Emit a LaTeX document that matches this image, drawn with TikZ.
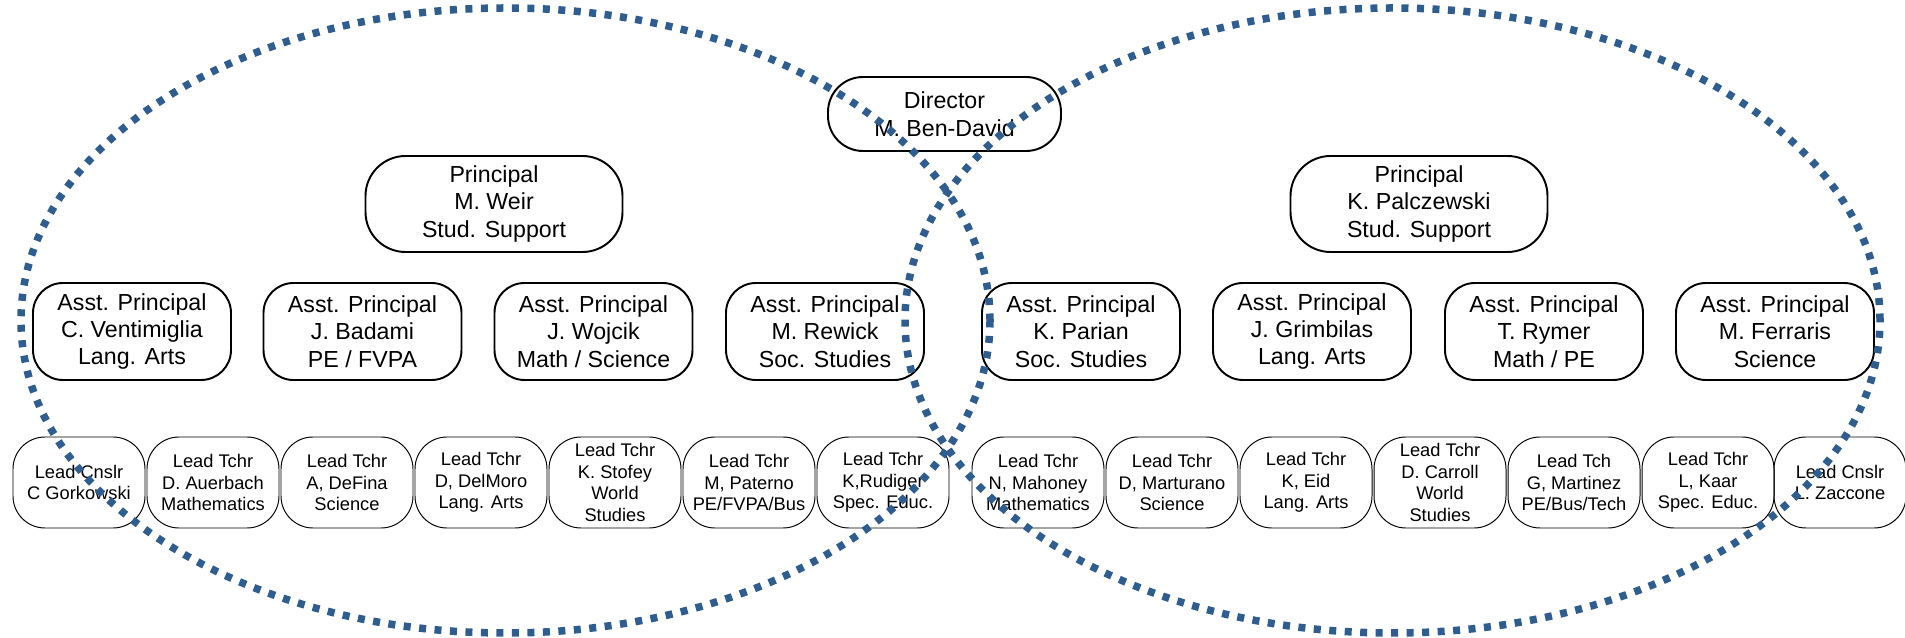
\documentclass[tikz,border=0pt]{standalone}
\usepackage{fontspec}
\setmainfont{Liberation Sans}
\usepackage{tikz}
\usetikzlibrary{positioning}
\definecolor{ring-blue}{HTML}{2F5D8F}

\begin{document}
\begin{tikzpicture}

    % frame
    \useasboundingbox (0,0) rectangle (38.1,12.76);

    % director
    \begin{scope}[every node/.style={draw, line width=1.1pt, rounded corners=0.7cm, align=center,
                  minimum width=4.66cm, minimum height=1.48cm, inner sep=0pt,
                  font=\fontsize{13.2}{15.8}\selectfont}]
        \node (dir) at (18.89,10.48) {Director\\M. Ben-David};
    \end{scope}

    % principals
    \begin{scope}[every node/.style={draw, line width=1.1pt, rounded corners=0.8cm, align=center,
                  minimum width=5.14cm, minimum height=1.92cm, inner sep=0pt,
                  font=\fontsize{13.2}{15.8}\selectfont}]
        \node (pw) at (9.88,8.68) {Principal\\M. Weir\\Stud. Support};
        \node (pp) at (28.38,8.68) {Principal\\K. Palczewski\\Stud. Support};
    \end{scope}

    % assistant principals
    \begin{scope}[every node/.style={draw, line width=1.1pt, rounded corners=0.6cm, align=center,
                  minimum width=3.96cm, minimum height=1.94cm, inner sep=0pt,
                  font=\fontsize{13.2}{15.6}\selectfont}]
        \node (ap1) at (2.64,6.13) {Asst. Principal\\C. Ventimiglia\\Lang. Arts};
        \node (ap2) at (7.25,6.13) {Asst. Principal\\J. Badami\\PE / FVPA};
        \node (ap3) at (11.87,6.13) {Asst. Principal\\J. Wojcik\\Math / Science};
        \node (ap4) at (16.50,6.13) {Asst. Principal\\M. Rewick\\Soc. Studies};
        \node (ap5) at (21.62,6.13) {Asst. Principal\\K. Parian\\Soc. Studies};
        \node (ap6) at (26.24,6.13) {Asst. Principal\\J. Grimbilas\\Lang. Arts};
        \node (ap7) at (30.88,6.13) {Asst. Principal\\T. Rymer\\Math / PE};
        \node (ap8) at (35.50,6.13) {Asst. Principal\\M. Ferraris\\Science};
    \end{scope}

    % lead teachers and counselors
    \begin{scope}[every node/.style={draw, line width=0.55pt, rounded corners=0.64cm, align=center,
                  minimum width=2.64cm, minimum height=1.82cm, inner sep=0pt,
                  font=\fontsize{10.4}{12.3}\selectfont}]
        \node (ld1) at (1.58,3.11) {Lead Cnslr\\C Gorkowski};
        \node (ld2) at (4.26,3.11) {Lead Tchr\\D. Auerbach\\Mathematics};
        \node (ld3) at (6.94,3.11) {Lead Tchr\\A, DeFina\\Science};
        \node (ld4) at (9.62,3.11) {Lead Tchr\\D, DelMoro\\Lang. Arts};
        \node (ld5) at (12.30,3.11) {Lead Tchr\\K. Stofey\\World\\Studies};
        \node (ld6) at (14.98,3.11) {Lead Tchr\\M, Paterno\\PE/FVPA/Bus};
        \node (ld7) at (17.66,3.11) {Lead Tchr\\K,Rudiger\\Spec. Educ.};
        \node (ld8) at (20.76,3.11) {Lead Tchr\\N, Mahoney\\Mathematics};
        \node (ld9) at (23.44,3.11) {Lead Tchr\\D, Marturano\\Science};
        \node (ld10) at (26.12,3.11) {Lead Tchr\\K, Eid\\Lang. Arts};
        \node (ld11) at (28.80,3.11) {Lead Tchr\\D. Carroll\\World\\Studies};
        \node (ld12) at (31.48,3.11) {Lead Tch\\G, Martinez\\PE/Bus/Tech};
        \node (ld13) at (34.16,3.11) {Lead Tchr\\L, Kaar\\Spec. Educ.};
        \node (ld14) at (36.80,3.11) {Lead Cnslr\\L. Zaccone};
    \end{scope}

    % dotted rings
    \begin{scope}[every path/.style={draw=ring-blue, line width=0.15cm, dash pattern=on 0.14cm off 0.17cm}]
        \path (10.11,6.35) ellipse [x radius=9.69cm, y radius=6.25cm];
        \path (27.85,6.35) ellipse [x radius=9.75cm, y radius=6.25cm];
    \end{scope}

\end{tikzpicture}
\end{document}
